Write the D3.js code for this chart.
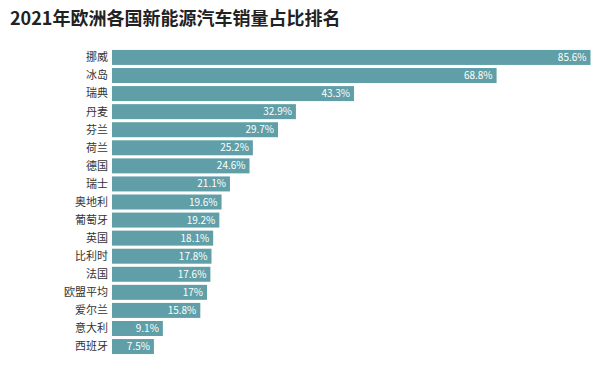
<!DOCTYPE html>
<html><head><meta charset="utf-8">
<script src="https://cdn.jsdelivr.net/npm/d3@7"></script>
<style>body{margin:0;background:#fff;}svg{display:block;}</style>
</head><body>
<svg id="c" width="599" height="371"></svg>
<script>
const titleText = "2021年欧洲各国新能源汽车销量占比排名";
const countries = ["挪威","冰岛","瑞典","丹麦","芬兰","荷兰","德国","瑞士","奥地利","葡萄牙","英国","比利时","法国","欧盟平均","爱尔兰","意大利","西班牙"];
const shares = [85.6,68.8,43.3,32.9,29.7,25.2,24.6,21.1,19.6,19.2,18.1,17.8,17.6,17,15.8,9.1,7.5];
const valueLabels = ["85.6%","68.8%","43.3%","32.9%","29.7%","25.2%","24.6%","21.1%","19.6%","19.2%","18.1%","17.8%","17.6%","17%","15.8%","9.1%","7.5%"];

const svg = d3.select("#c");
const font = "'Noto Sans CJK SC','Noto Sans',sans-serif";
svg.append("text").attr("x",10).attr("y",25).text(titleText)
  .attr("font-family",font).attr("font-size",18).attr("font-weight","bold").attr("fill","#222");

const x0 = 112;
const x = d3.scaleLinear().domain([0,85.6]).range([x0,590.5]);
const y = d3.scaleBand().domain(countries).range([48.5,355.5]).paddingInner(0.17).paddingOuter(0.08);

svg.append("g").selectAll("rect").data(countries).join("rect")
  .attr("x",x0).attr("y",d=>y(d)).attr("height",y.bandwidth())
  .attr("width",(d,i)=>x(shares[i])-x0).attr("fill","#609fa7");

svg.append("g").selectAll("text").data(countries).join("text")
  .attr("x",108).attr("y",d=>y(d)+y.bandwidth()/2).attr("dy","0.35em")
  .attr("text-anchor","end").attr("font-family",font).attr("font-size",11).attr("fill","#333")
  .text(d=>d);

svg.append("g").selectAll("text").data(countries).join("text")
  .attr("x",(d,i)=>x(shares[i])-4).attr("y",d=>y(d)+y.bandwidth()/2).attr("dy","0.35em")
  .attr("text-anchor","end").attr("font-family",font).attr("font-size",10).attr("fill","#fff")
  .text((d,i)=>valueLabels[i]);
</script>
</body></html>
